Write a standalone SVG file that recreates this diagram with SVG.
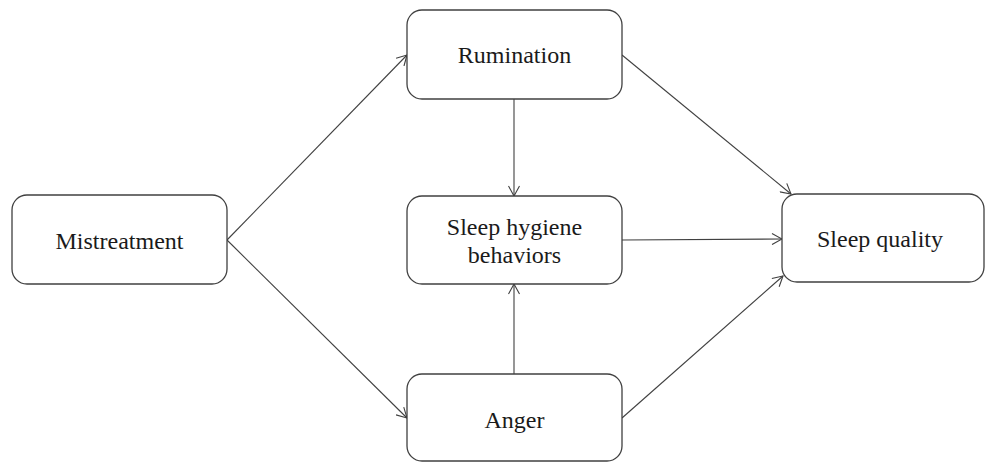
<svg xmlns="http://www.w3.org/2000/svg" width="986" height="463" viewBox="0 0 986 463">
<defs>
<style>
.box{fill:#fff;stroke:#404040;stroke-width:1.3}
.lbl{font-family:"Liberation Serif","Times New Roman",serif;font-size:24px;fill:#1a1a1a;text-anchor:middle}
.edge{fill:none;stroke:#404040;stroke-width:1.1}
</style>
<marker id="ah" viewBox="0 0 12 12" refX="11" refY="6" markerWidth="12" markerHeight="12" markerUnits="userSpaceOnUse" orient="auto">
<path d="M1,0.5 L11,6 L1,11.5" fill="none" stroke="#404040" stroke-width="1.1"/>
</marker>
</defs>
<rect width="986" height="463" fill="#fff"/>
<g id="connectors">
<line class="edge" x1="227" y1="240" x2="407" y2="55" marker-end="url(#ah)"/>
<line class="edge" x1="227" y1="240" x2="407" y2="418" marker-end="url(#ah)"/>
<line class="edge" x1="514" y1="99" x2="514" y2="196" marker-end="url(#ah)"/>
<line class="edge" x1="514" y1="374" x2="514" y2="284" marker-end="url(#ah)"/>
<line class="edge" x1="622" y1="55" x2="791" y2="194" marker-end="url(#ah)"/>
<line class="edge" x1="622" y1="240" x2="782" y2="239" marker-end="url(#ah)"/>
<line class="edge" x1="622" y1="418" x2="783" y2="276" marker-end="url(#ah)"/>
</g>
<g id="rumination">
<rect class="box" x="407" y="10" width="215" height="89" rx="15"/>
<text class="lbl" x="514.5" y="63">Rumination</text>
</g>
<g id="mistreatment">
<rect class="box" x="12" y="195" width="215" height="89" rx="15"/>
<text class="lbl" x="119.5" y="249">Mistreatment</text>
</g>
<g id="sleep-hygiene">
<rect class="box" x="407" y="196" width="215" height="88" rx="15"/>
<text class="lbl" x="514.5" y="235">Sleep hygiene</text>
<text class="lbl" x="514.5" y="263">behaviors</text>
</g>
<g id="anger">
<rect class="box" x="407" y="374" width="215" height="87" rx="15"/>
<text class="lbl" x="514.5" y="428">Anger</text>
</g>
<g id="sleep-quality">
<rect class="box" x="782" y="194" width="202" height="88" rx="15"/>
<text class="lbl" x="880" y="247">Sleep quality</text>
</g>
</svg>
